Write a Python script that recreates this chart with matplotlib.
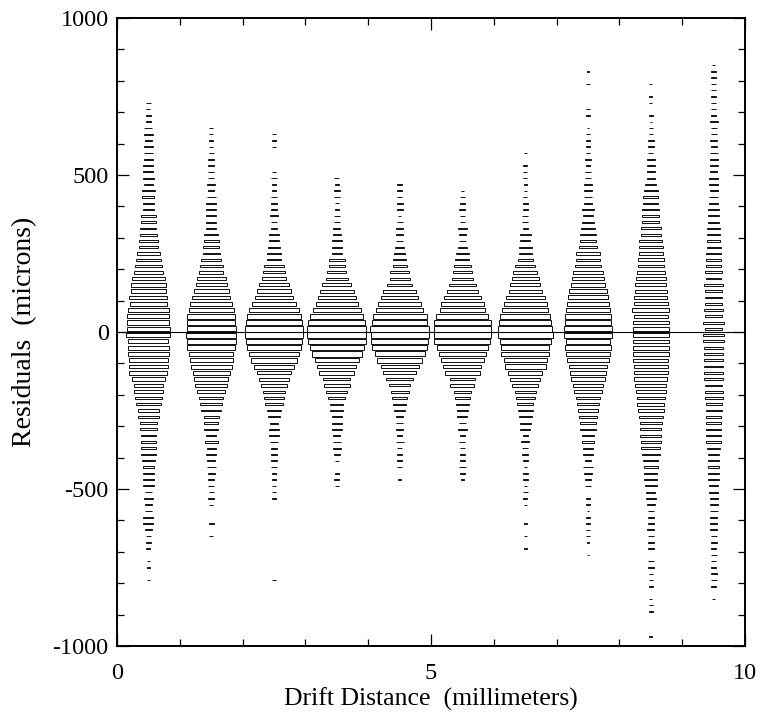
import numpy as np
import matplotlib.pyplot as plt
from matplotlib.ticker import MultipleLocator

plt.rcParams['font.family'] = ['Liberation Serif', 'DejaVu Serif']
plt.rcParams['axes.unicode_minus'] = False

# residual bins are 20 microns wide (centres +-10, +-30, ...)
# box contents per drift slice; "up" runs from the top bin down to +10,
# "dn" runs from -10 downwards. zeros are empty bins.
drift = [0.5, 1.5, 2.5, 3.5, 4.5, 5.5, 6.5, 7.5, 8.5, 9.5]
tops = [730, 650, 630, 490, 470, 450, 570, 830, 790, 850]

up_1 = [13, 12, 16, 13, 24, 26, 22, 28, 29, 29, 31, 31, 35, 28, 41, 37, 35, 36, 46, 47,
        49, 52, 58, 58, 71, 75, 83, 89, 102, 106, 108, 117, 115, 125, 129, 129, 134]
dn_1 = [135, 123, 124, 125, 119, 118, 116, 103, 90, 90, 81, 77, 64, 65, 53, 54, 46, 44, 44, 44,
        42, 34, 34, 34, 34, 22, 28, 23, 23, 31, 31, 22, 16, 14, 12, 0, 11, 10, 0, 7]

up_2 = [12, 13, 11, 14, 16, 17, 19, 20, 20, 26, 20, 27, 29, 29, 30, 30, 30, 42, 46, 48,
        53, 63, 70, 75, 88, 96, 108, 117, 128, 137, 149, 147, 151]
dn_2 = [152, 151, 148, 136, 132, 125, 114, 105, 98, 86, 72, 67, 60, 46, 44, 42, 31, 39, 28, 32,
        26, 28, 21, 19, 20, 15, 17, 12, 0, 0, 15, 0, 12]

up_3 = [10, 10, 10, 0, 0, 0, 10, 20, 14, 14, 16, 20, 21, 23, 20, 21, 28, 31, 35, 40,
        42, 61, 66, 75, 92, 104, 119, 136, 151, 164, 171, 175]
dn_3 = [175, 173, 168, 152, 139, 125, 103, 91, 78, 65, 59, 53, 44, 37, 27, 33, 31, 23, 21, 20,
        20, 21, 14, 10, 14, 12, 12, 0, 0, 0, 0, 0, 0, 0, 0, 0, 0, 0, 0, 10]

up_4 = [15, 12, 18, 17, 11, 13, 18, 18, 22, 23, 29, 31, 32, 48, 50, 59, 67, 89, 103, 115,
        129, 146, 162, 175, 181]
dn_4 = [180, 179, 165, 155, 136, 120, 107, 83, 79, 65, 52, 39, 39, 32, 32, 31, 21, 24, 23, 17,
        12, 0, 14, 16, 13]

up_5 = [17, 17, 17, 18, 18, 9, 18, 21, 23, 23, 30, 35, 40, 43, 59, 61, 77, 101, 112, 131,
        146, 165, 169, 181]
dn_5 = [178, 174, 168, 153, 138, 116, 103, 85, 64, 55, 48, 38, 34, 20, 20, 20, 15, 24, 15, 14,
        15, 16, 0, 11]

up_6 = [11, 15, 15, 18, 15, 14, 26, 20, 21, 29, 41, 43, 51, 59, 66, 81, 95, 115, 130, 140,
        159, 174, 177]
dn_6 = [174, 172, 156, 146, 131, 117, 105, 79, 73, 54, 45, 40, 33, 31, 22, 26, 15, 19, 13, 15,
        15, 21, 15, 9]

up_7 = [9, 0, 13, 12, 13, 9, 10, 11, 15, 16, 17, 20, 16, 34, 29, 40, 39, 47, 61, 73,
        83, 93, 101, 120, 131, 142, 155, 159, 167]
dn_7 = [168, 157, 149, 147, 133, 126, 104, 91, 80, 64, 58, 48, 45, 41, 34, 32, 16, 25, 18, 17,
        16, 9, 16, 16, 10, 15, 14, 10, 0, 0, 10, 0, 10, 0, 10]

up_8 = [9, 0, 13, 0, 0, 0, 11, 13, 0, 9, 15, 15, 15, 15, 17, 15, 20, 21, 23, 24,
        26, 27, 35, 31, 36, 44, 51, 50, 55, 76, 74, 82, 94, 96, 103, 114, 121, 129, 134, 138,
        138, 147]
dn_8 = [148, 132, 138, 135, 131, 116, 110, 102, 95, 85, 75, 67, 63, 53, 47, 47, 36, 39, 31, 33,
        16, 29, 24, 21, 21, 0, 14, 14, 9, 15, 14, 11, 13, 9, 0, 7]

up_9 = [9, 0, 9, 9, 0, 13, 7, 13, 14, 19, 17, 15, 25, 24, 25, 26, 33, 43, 45, 45,
        51, 51, 51, 61, 63, 70, 72, 74, 81, 81, 86, 92, 96, 98, 101, 106, 113, 105, 109, 111]
dn_9 = [110, 109, 111, 109, 107, 103, 103, 100, 96, 91, 86, 84, 80, 72, 68, 65, 64, 62, 59, 54,
        45, 43, 39, 41, 36, 28, 30, 24, 19, 18, 20, 21, 17, 18, 17, 0, 17, 17, 11, 12,
        12, 0, 10, 13, 12, 0, 0, 0, 9]

up_10 = [9, 16, 14, 14, 14, 16, 16, 16, 17, 24, 18, 19, 21, 19, 24, 25, 25, 23, 27, 30,
         25, 28, 30, 34, 33, 36, 41, 40, 39, 43, 45, 46, 47, 53, 48, 56, 51, 53, 51, 57,
         54, 62, 54]
dn_10 = [66, 62, 59, 59, 57, 57, 59, 57, 53, 55, 55, 49, 49, 46, 48, 46, 48, 47, 39, 35,
         35, 35, 33, 32, 27, 27, 25, 24, 25, 23, 21, 22, 19, 19, 17, 19, 17, 17, 19, 19,
         17, 0, 9]

ups = [up_1, up_2, up_3, up_4, up_5, up_6, up_7, up_8, up_9, up_10]
dns = [dn_1, dn_2, dn_3, dn_4, dn_5, dn_6, dn_7, dn_8, dn_9, dn_10]

ybin = 20.0
xbin = 1.0
vmax = max(max(u + d) for u, d in zip(ups, dns))

fig = plt.figure(figsize=(7.62, 7.15), dpi=100)
ax = fig.add_axes([117 / 762, 69 / 715, 628 / 762, 628 / 715])

for x, top, up, dn in zip(drift, tops, ups, dns):
    yc = np.concatenate([top - ybin * np.arange(len(up)), -10 - ybin * np.arange(len(dn))])
    v = np.array(up + dn, dtype=float)
    keep = v > 0
    r = v[keep] / vmax * 0.94
    h = ybin * r
    ax.bar(np.full(keep.sum(), x), h, width=xbin * r, bottom=yc[keep] - h / 2,
           fill=False, edgecolor='black', linewidth=0.65)

ax.axhline(0, color='black', linewidth=0.8)

ax.set_xlim(0, 10)
ax.set_ylim(-1000, 1000)
ax.xaxis.set_major_locator(MultipleLocator(5))
ax.xaxis.set_minor_locator(MultipleLocator(1))
ax.yaxis.set_major_locator(MultipleLocator(500))
ax.yaxis.set_minor_locator(MultipleLocator(100))
ax.tick_params(which='both', direction='in', top=True, right=True, width=0.9)
ax.tick_params(which='major', length=8.7)
ax.tick_params(which='minor', length=5)
ax.tick_params(axis='x', labelsize=17.5, pad=12)
ax.tick_params(axis='y', labelsize=17.5, pad=6)
for s in ax.spines.values():
    s.set_linewidth(1.4)

ax.set_xlabel('Drift Distance  (millimeters)', fontsize=18.5)
ax.set_ylabel('Residuals  (microns)', fontsize=20)
ax.xaxis.set_label_coords(0.5, -0.066)
ax.yaxis.set_label_coords(-0.127, 0.5)

fig.savefig('out.png', dpi=100)
